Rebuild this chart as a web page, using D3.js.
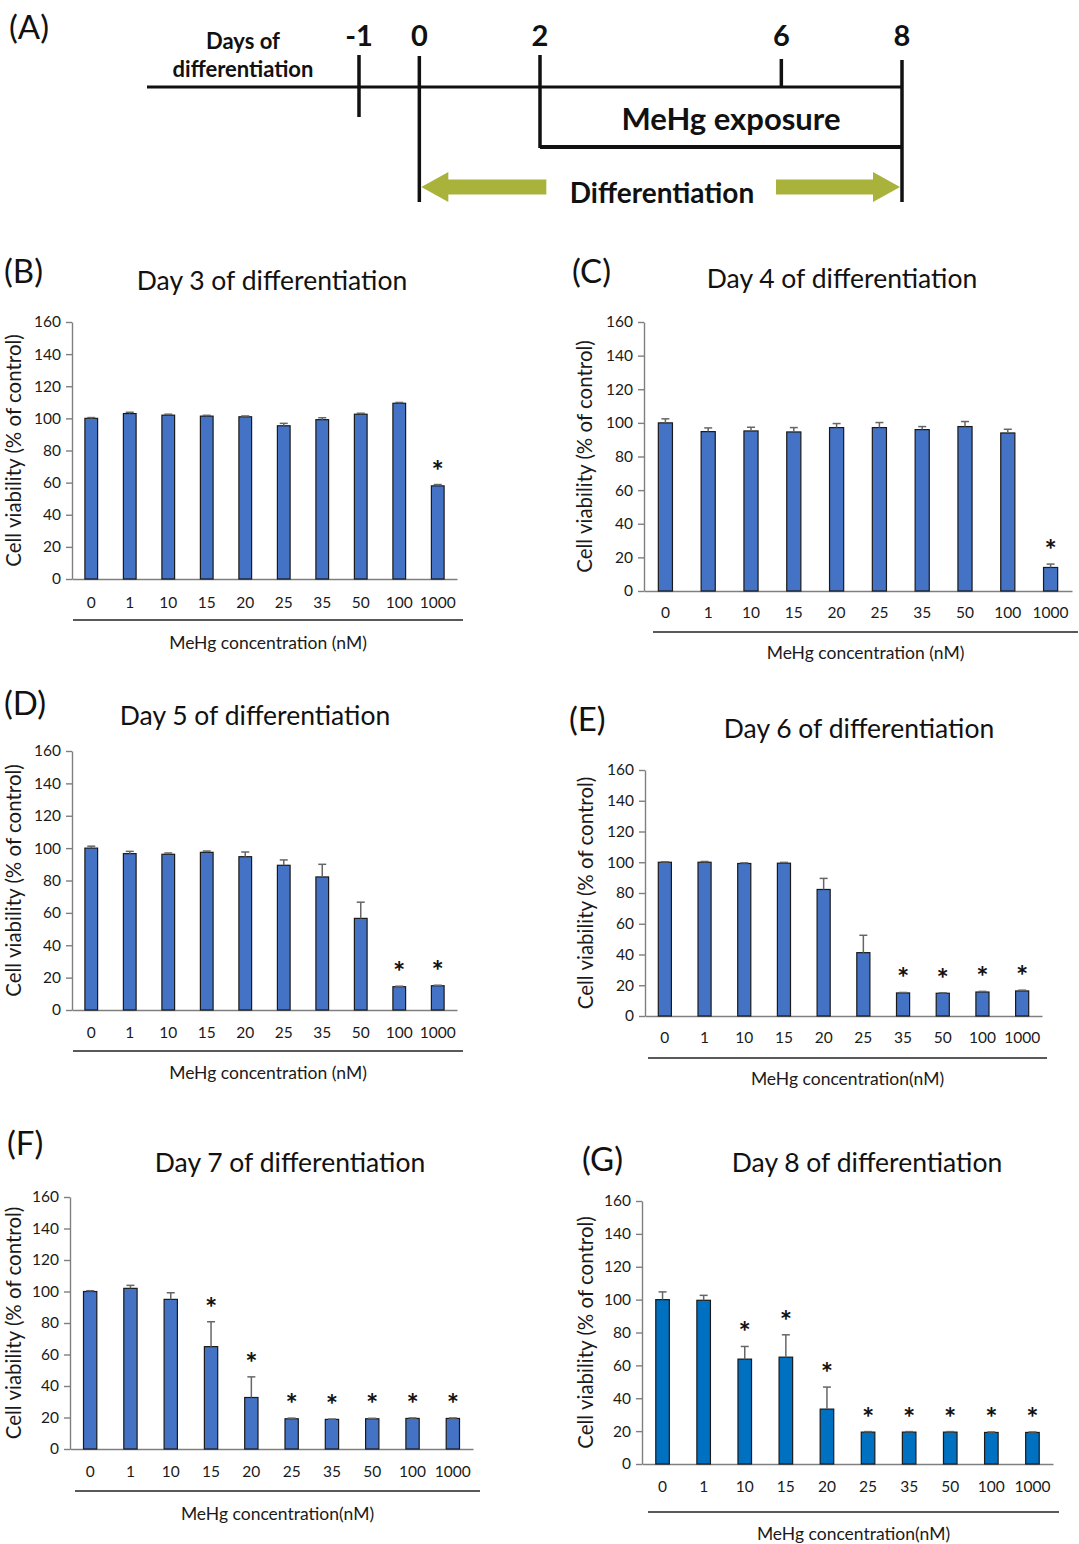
<!DOCTYPE html>
<html>
<head>
<meta charset="utf-8">
<script src="https://cdn.jsdelivr.net/npm/d3@7"></script>
<style>
  body { margin: 0; background: #fff; }
  svg text { font-family: Lato, "Liberation Sans", sans-serif; }
</style>
</head>
<body>
<div id="figure"></div>
<script>
// ---- data ----
var concentrations = ["0", "1", "10", "15", "20", "25", "35", "50", "100", "1000"];
var yTicks = [0, 20, 40, 60, 80, 100, 120, 140, 160];

var day3Mean = [100, 103, 102, 101.4, 101, 95.4, 99.2, 102.6, 109.4, 58];
var day3Err  = [0.5, 0.8, 0.6, 0.5, 0.5, 1.5, 1.2, 0.6, 0.5, 0.8];
var day3Sig  = ["1000"];

var day4Mean = [100, 94.8, 95.2, 94.6, 97.2, 97.2, 96, 97.8, 94, 14];
var day4Err  = [2.4, 2.2, 2.2, 2.6, 2.4, 3, 1.8, 3, 2.2, 2];
var day4Sig  = ["1000"];

var day5Mean = [100, 96.6, 96.2, 97.4, 94.7, 89.4, 82.2, 56.6, 14.4, 15];
var day5Err  = [1.2, 1.4, 0.8, 0.8, 2.9, 3.3, 7.8, 10, 0.3, 0.3];
var day5Sig  = ["100", "1000"];

var day6Mean = [100, 100, 99.2, 99.4, 82.3, 41.2, 15, 14.8, 15.6, 16.3];
var day6Err  = [0.3, 0.5, 0.4, 0.5, 7.2, 11.3, 0.3, 0.3, 0.4, 0.5];
var day6Sig  = ["35", "50", "100", "1000"];

var day7Mean = [100, 102, 95, 65, 32.7, 19.2, 18.8, 19.2, 19.4, 19.4];
var day7Err  = [0.5, 1.9, 4.2, 15.8, 13.1, 0.4, 0.2, 0.3, 0.3, 0.3];
var day7Sig  = ["15", "20", "25", "35", "50", "100", "1000"];

var day8Mean = [100, 99.6, 63.8, 65, 33.4, 19.4, 19.4, 19.4, 19.2, 19.2];
var day8Err  = [4.7, 3, 7.7, 13.6, 13.4, 0.3, 0.3, 0.3, 0.3, 0.3];
var day8Sig  = ["10", "15", "20", "25", "35", "50", "100", "1000"];

// timeline of panel A
var timelineDays = [-1, 0, 2, 6, 8];
var exposureDays = [2, 8];
var differentiationDays = [0, 8];

// ---- page ----
var svgWidth = 1079;
var svgHeight = 1544;

var svg = d3.select("#figure")
  .append("svg")
  .attr("width", svgWidth)
  .attr("height", svgHeight);

// ---------- panel A : timeline ----------
var dayScale = d3.scaleLinear().domain([-1, 8]).range([359, 902]);
var lineY = 87;
var olive = "#a9b23a";
var gA = svg.append("g");

gA.append("text").attr("x", 9).attr("y", 26)
  .attr("dominant-baseline", "central")
  .style("font-size", "33px").attr("fill", "#111").text("(A)");

gA.append("text").attr("x", 243).attr("y", 40).attr("text-anchor", "middle")
  .attr("dominant-baseline", "central").style("font-size", "22px").style("font-weight", "bold")
  .attr("fill", "#111").text("Days of");
gA.append("text").attr("x", 243).attr("y", 68).attr("text-anchor", "middle")
  .attr("dominant-baseline", "central").style("font-size", "22px").style("font-weight", "bold")
  .attr("fill", "#111").text("differentiation");

// main horizontal line
gA.append("line")
  .attr("x1", 147).attr("x2", dayScale(8))
  .attr("y1", lineY).attr("y2", lineY)
  .attr("stroke", "#111").attr("stroke-width", 3);

// tick length below the line depends on the day
var tickBottom = { "-1": 117, "0": 202, "2": 148, "6": lineY, "8": 202 };
var tickTop = { "-1": 55, "0": 56, "2": 55, "6": 59, "8": 60 };

gA.selectAll("line.day")
  .data(timelineDays)
  .enter()
  .append("line")
  .attr("class", "day")
  .attr("x1", d => dayScale(d)).attr("x2", d => dayScale(d))
  .attr("y1", d => tickTop[d]).attr("y2", d => tickBottom[d])
  .attr("stroke", "#111").attr("stroke-width", 3.5);

gA.selectAll("text.day")
  .data(timelineDays)
  .enter()
  .append("text")
  .attr("class", "day")
  .attr("x", d => dayScale(d))
  .attr("y", 34)
  .attr("text-anchor", "middle")
  .attr("dominant-baseline", "central")
  .style("font-size", "29px").style("font-weight", "bold")
  .attr("fill", "#111")
  .text(d => d);

// exposure box bottom
gA.append("line")
  .attr("x1", dayScale(exposureDays[0])).attr("x2", dayScale(exposureDays[1]))
  .attr("y1", 147).attr("y2", 147)
  .attr("stroke", "#111").attr("stroke-width", 4);

gA.append("text")
  .attr("x", (dayScale(exposureDays[0]) + dayScale(exposureDays[1])) / 2 + 10)
  .attr("y", 118)
  .attr("text-anchor", "middle").attr("dominant-baseline", "central")
  .style("font-size", "31px").style("font-weight", "bold")
  .attr("fill", "#111").text("MeHg exposure");

// differentiation arrows
var arrowY = 187;
var xa = dayScale(differentiationDays[0]) + 2;
var xb = dayScale(differentiationDays[1]) - 2;
var leftArrow = d3.path();
leftArrow.moveTo(xa, arrowY);
leftArrow.lineTo(xa + 27, arrowY - 15);
leftArrow.lineTo(xa + 27, arrowY - 7.5);
leftArrow.lineTo(xa + 125, arrowY - 7.5);
leftArrow.lineTo(xa + 125, arrowY + 7.5);
leftArrow.lineTo(xa + 27, arrowY + 7.5);
leftArrow.lineTo(xa + 27, arrowY + 15);
leftArrow.closePath();
gA.append("path").attr("d", leftArrow.toString()).attr("fill", olive);

var rightArrow = d3.path();
rightArrow.moveTo(xb, arrowY);
rightArrow.lineTo(xb - 27, arrowY - 15);
rightArrow.lineTo(xb - 27, arrowY - 7.5);
rightArrow.lineTo(xb - 124, arrowY - 7.5);
rightArrow.lineTo(xb - 124, arrowY + 7.5);
rightArrow.lineTo(xb - 27, arrowY + 7.5);
rightArrow.lineTo(xb - 27, arrowY + 15);
rightArrow.closePath();
gA.append("path").attr("d", rightArrow.toString()).attr("fill", olive);

gA.append("text").attr("x", 662).attr("y", 192)
  .attr("text-anchor", "middle").attr("dominant-baseline", "central")
  .style("font-size", "28px").style("font-weight", "bold")
  .attr("fill", "#111").text("Differentiation");

// ---------- bar panels ----------
var panels = [
  { tag: "(B)", title: "Day 3 of differentiation", mean: day3Mean, err: day3Err, sig: day3Sig,
    xlab: "MeHg concentration (nM)", color: "#4472c4",
    left: 72, right: 457, top: 322, bottom: 579, tickY: 603, sepY: 620, sepX: [73, 463], xlabY: 642,
    titleX: 272, titleY: 280, tagX: 4, tagY: 270, ylabX: 13 },
  { tag: "(C)", title: "Day 4 of differentiation", mean: day4Mean, err: day4Err, sig: day4Sig,
    xlab: "MeHg concentration (nM)", color: "#4472c4",
    left: 644, right: 1072, top: 322, bottom: 591, tickY: 613, sepY: 632, sepX: [653, 1078], xlabY: 652,
    titleX: 842, titleY: 278, tagX: 572, tagY: 270, ylabX: 584 },
  { tag: "(D)", title: "Day 5 of differentiation", mean: day5Mean, err: day5Err, sig: day5Sig,
    xlab: "MeHg concentration (nM)", color: "#4472c4",
    left: 72, right: 457, top: 751, bottom: 1010, tickY: 1033, sepY: 1051, sepX: [73, 463], xlabY: 1072,
    titleX: 255, titleY: 715, tagX: 4, tagY: 702, ylabX: 13 },
  { tag: "(E)", title: "Day 6 of differentiation", mean: day6Mean, err: day6Err, sig: day6Sig,
    xlab: "MeHg concentration(nM)", color: "#4472c4",
    left: 645, right: 1042, top: 770, bottom: 1016, tickY: 1038, sepY: 1058, sepX: [648, 1047], xlabY: 1078,
    titleX: 859, titleY: 728, tagX: 569, tagY: 718, ylabX: 585 },
  { tag: "(F)", title: "Day 7 of differentiation", mean: day7Mean, err: day7Err, sig: day7Sig,
    xlab: "MeHg concentration(nM)", color: "#4472c4",
    left: 70, right: 473, top: 1197, bottom: 1449, tickY: 1472, sepY: 1491, sepX: [75, 480], xlabY: 1513,
    titleX: 290, titleY: 1162, tagX: 7, tagY: 1142, ylabX: 13 },
  { tag: "(G)", title: "Day 8 of differentiation", mean: day8Mean, err: day8Err, sig: day8Sig,
    xlab: "MeHg concentration(nM)", color: "#0070c0",
    left: 642, right: 1053, top: 1201, bottom: 1464, tickY: 1487, sepY: 1512, sepX: [648, 1059], xlabY: 1533,
    titleX: 867, titleY: 1162, tagX: 582, tagY: 1158, ylabX: 585 }
];

panels.forEach(function(p) {
  var g = svg.append("g");

  var data = concentrations.map(function(c, i) {
    return { conc: c, mean: p.mean[i], err: p.err[i], sig: p.sig.indexOf(c) >= 0 };
  });

  var x = d3.scaleBand()
    .domain(concentrations)
    .range([p.left, p.right])
    .paddingInner(0.67)
    .paddingOuter(0.335);

  var y = d3.scaleLinear()
    .domain([0, 160])
    .range([p.bottom, p.top]);

  // y axis
  var yAxis = g.append("g")
    .attr("transform", `translate(${p.left},0)`)
    .call(d3.axisLeft(y).tickValues(yTicks).tickSize(6).tickSizeOuter(0).tickPadding(5));
  yAxis.select(".domain").attr("stroke", "#7f7f7f").attr("stroke-width", 1.4);
  yAxis.selectAll(".tick line").attr("stroke", "#7f7f7f").attr("stroke-width", 1.4);
  yAxis.selectAll(".tick text").attr("fill", "#1a1a1a").style("font-size", "15.5px");

  // x axis
  var xAxis = g.append("g")
    .attr("transform", `translate(0,${p.bottom})`)
    .call(d3.axisBottom(x).tickSize(0).tickSizeOuter(0).tickPadding(p.tickY - p.bottom - 6));
  xAxis.select(".domain").attr("stroke", "#7f7f7f").attr("stroke-width", 1.4);
  xAxis.selectAll(".tick text").attr("fill", "#1a1a1a").style("font-size", "15.5px");

  // bars
  g.selectAll("rect.bar")
    .data(data)
    .enter()
    .append("rect")
    .attr("class", "bar")
    .attr("x", d => x(d.conc))
    .attr("width", x.bandwidth())
    .attr("y", d => y(d.mean))
    .attr("height", d => y(0) - y(d.mean))
    .attr("fill", p.color)
    .attr("stroke", "#1a1a1a")
    .attr("stroke-width", 1.2);

  // error bars (upper only)
  var cx = d => x(d.conc) + x.bandwidth() / 2;
  g.selectAll("line.err")
    .data(data)
    .enter()
    .append("line")
    .attr("class", "err")
    .attr("x1", cx).attr("x2", cx)
    .attr("y1", d => y(d.mean)).attr("y2", d => y(d.mean + d.err))
    .attr("stroke", "#666").attr("stroke-width", 1.5);
  g.selectAll("line.cap")
    .data(data)
    .enter()
    .append("line")
    .attr("class", "cap")
    .attr("x1", d => cx(d) - 4).attr("x2", d => cx(d) + 4)
    .attr("y1", d => y(d.mean + d.err)).attr("y2", d => y(d.mean + d.err))
    .attr("stroke", "#666").attr("stroke-width", 1.5);

  // significance stars
  g.selectAll("text.star")
    .data(data.filter(d => d.sig))
    .enter()
    .append("text")
    .attr("class", "star")
    .attr("x", cx)
    .attr("y", d => y(d.mean + d.err) - 4)
    .attr("text-anchor", "middle")
    .style("font-size", "29px")
    .style("font-weight", "bold")
    .attr("fill", "#111")
    .text("*");

  // separator line under the category labels
  g.append("line")
    .attr("x1", p.sepX[0]).attr("x2", p.sepX[1])
    .attr("y1", p.sepY).attr("y2", p.sepY)
    .attr("stroke", "#222").attr("stroke-width", 1.5);

  // x label
  g.append("text")
    .attr("x", (p.sepX[0] + p.sepX[1]) / 2)
    .attr("y", p.xlabY)
    .attr("text-anchor", "middle").attr("dominant-baseline", "central")
    .style("font-size", "17.5px").attr("fill", "#1a1a1a")
    .text(p.xlab);

  // y label
  g.append("text")
    .attr("transform", `translate(${p.ylabX},${(p.top + p.bottom) / 2}) rotate(-90)`)
    .attr("text-anchor", "middle").attr("dominant-baseline", "central")
    .style("font-size", "20.5px").attr("fill", "#1a1a1a")
    .text("Cell viability (% of control)");

  // title
  g.append("text")
    .attr("x", p.titleX).attr("y", p.titleY)
    .attr("text-anchor", "middle").attr("dominant-baseline", "central")
    .style("font-size", "26.5px").attr("fill", "#111")
    .text(p.title);

  // panel tag
  g.append("text")
    .attr("x", p.tagX).attr("y", p.tagY)
    .attr("dominant-baseline", "central")
    .style("font-size", "33px").attr("fill", "#111")
    .text(p.tag);
});
</script>
</body>
</html>
